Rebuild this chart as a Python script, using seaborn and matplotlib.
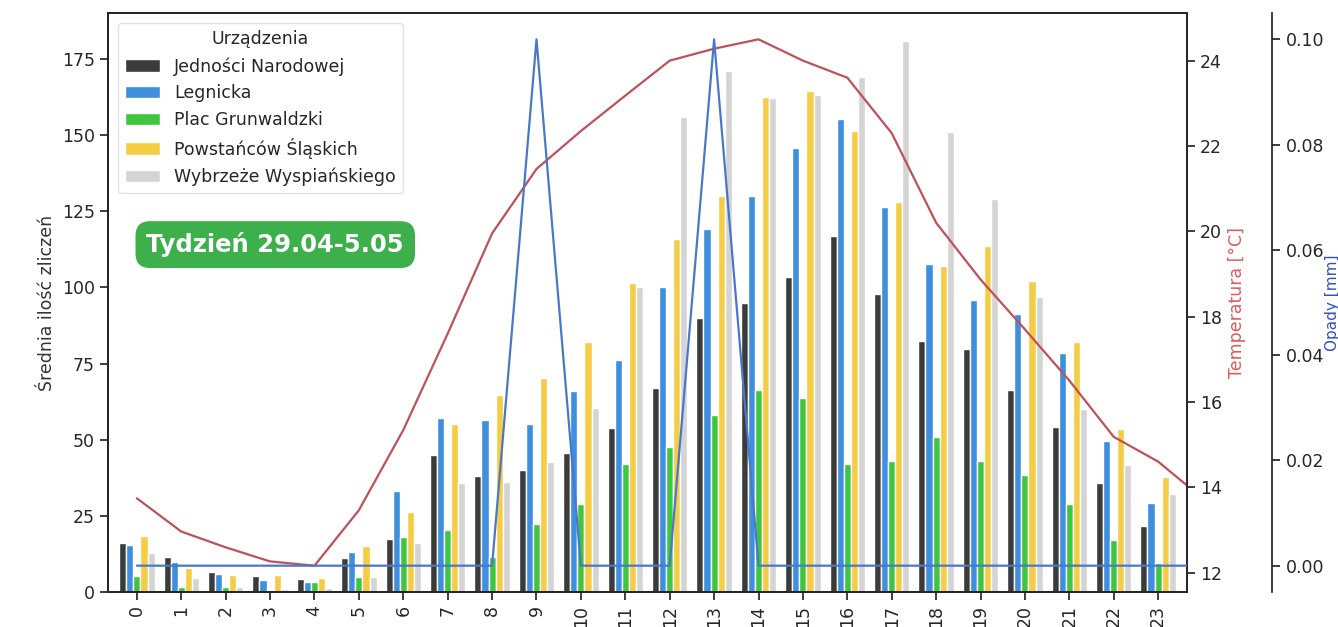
import numpy as np
import pandas as pd
import matplotlib
matplotlib.use("Agg")
import matplotlib.pyplot as plt
import seaborn as sns

hours = list(range(24))
devices = ["Jedności Narodowej", "Legnicka", "Plac Grunwaldzki",
           "Powstańców Śląskich", "Wybrzeże Wyspiańskiego"]

jednosci = [16.1, 11.5, 6.6, 5.3, 4.3, 11.2, 17.4, 45.0, 38.2, 40.1, 45.7, 53.9,
            66.8, 90.1, 95.0, 103.3, 116.8, 97.7, 82.4, 79.6, 66.4, 54.3, 35.7, 21.7]
legnicka = [15.5, 10.0, 6.0, 4.0, 3.4, 13.2, 33.2, 57.2, 56.6, 55.3, 66.1, 76.0,
            100.0, 119.0, 130.0, 145.7, 155.3, 126.3, 107.6, 96.0, 91.4, 78.5, 49.7, 29.3]
grunwaldzki = [5.2, 1.7, 1.7, 0.7, 3.4, 4.8, 18.2, 20.4, 11.5, 22.4, 28.9, 42.1,
               47.7, 58.2, 66.4, 63.8, 42.0, 43.0, 51.0, 43.0, 38.5, 29.0, 17.1, 9.5]
powstancow = [18.5, 8.0, 5.6, 5.6, 4.6, 15.1, 26.3, 55.0, 64.5, 70.4, 82.2, 101.3,
              115.8, 130.0, 162.5, 164.3, 151.3, 128.0, 107.0, 113.5, 102.0, 82.0, 53.5, 37.8]
wybrzeze = [12.8, 4.6, 1.5, 1.0, 1.3, 5.0, 16.0, 35.8, 36.2, 42.8, 60.5, 100.0,
            156.0, 171.0, 162.0, 163.0, 169.0, 181.0, 151.0, 129.0, 96.7, 60.0, 41.8, 32.2]

line_hours = list(range(25))
temperature = [13.74, 12.96, 12.59, 12.26, 12.16, 13.46, 15.34, 17.6, 19.95, 21.46,
               22.35, 23.18, 24.0, 24.28, 24.5, 24.0, 23.6, 22.3, 20.2, 18.87,
               17.7, 16.5, 15.18, 14.6, 13.74]
precip = [0, 0, 0, 0, 0, 0, 0, 0, 0, 0.1, 0, 0, 0, 0.1, 0, 0, 0, 0, 0, 0,
          0, 0, 0, 0, 0]

colors = ["#3b3b3b", "#3f8fdf", "#3ec63e", "#f4cd45", "#d4d4d4"]

rows = []
for dev, vals in zip(devices, [jednosci, legnicka, grunwaldzki, powstancow, wybrzeze]):
    for h, v in zip(hours, vals):
        rows.append({"hour": h, "value": v, "device": dev})
df = pd.DataFrame(rows)
df_line = pd.DataFrame({"hour": line_hours, "temp": temperature, "precip": precip})

sns.set_theme(style="ticks")
plt.rcParams['font.family'] = ['DejaVu Sans']

fig = plt.figure(figsize=(13.38, 6.27), dpi=100)
ax = fig.add_axes([108/1338, 1-592/627, (1187-108)/1338, (592-13)/627])

sns.barplot(data=df, x="hour", y="value", hue="device", hue_order=devices,
            palette=colors, ax=ax, width=0.8, saturation=1)
ax.set_xlabel("")
ax.set_ylabel("Średnia ilość zliczeń", fontsize=12.5, color=".2")
ax.tick_params(axis="x", labelrotation=90, labelsize=12.5)
ax.tick_params(axis="y", labelsize=12.5)
ax.set_yticks([0, 25, 50, 75, 100, 125, 150, 175])
leg = ax.legend(title="Urządzenia", loc="upper left", fontsize=12.5,
                title_fontsize=12.5, frameon=True, borderaxespad=0.6)
leg.get_frame().set_edgecolor("#dddddd")

ax2 = ax.twinx()
sns.lineplot(data=df_line, x="hour", y="temp", ax=ax2, color="#c0505a", lw=1.6)
ax2.set_ylabel("Temperatura [°C]", color="#e05a5a", fontsize=12.5)
ax2.tick_params(axis="y", labelsize=12.5)
ax2.set_yticks([12, 14, 16, 18, 20, 22, 24])

ax3 = ax.twinx()
ax3.spines["right"].set_position(("axes", 1.079))
sns.lineplot(data=df_line, x="hour", y="precip", ax=ax3, color="#4a78c8", lw=1.6)
ax3.set_ylabel("Opady [mm]", color="#3050c0", fontsize=11, labelpad=1)
ax3.tick_params(axis="y", labelsize=12.5)
ax3.set_yticks([0.0, 0.02, 0.04, 0.06, 0.08, 0.10])
ax3.yaxis.set_major_formatter(matplotlib.ticker.FormatStrFormatter("%.2f"))

for a in (ax, ax2, ax3):
    a.set_xlim(-0.65, 23.65)
ax.set_xticks(hours)
ax.set_xticklabels([str(h) for h in hours])

ax3.text(0.155, 0.6, "Tydzień 29.04-5.05", transform=ax.transAxes,
         ha="center", va="center", fontsize=17.5, fontweight="bold",
         family=["DejaVu Sans"], color="white",
         bbox=dict(boxstyle="round,pad=0.45,rounding_size=0.6",
                   fc="#3db04b", ec="none"))

fig.savefig("out.png", dpi=100)
